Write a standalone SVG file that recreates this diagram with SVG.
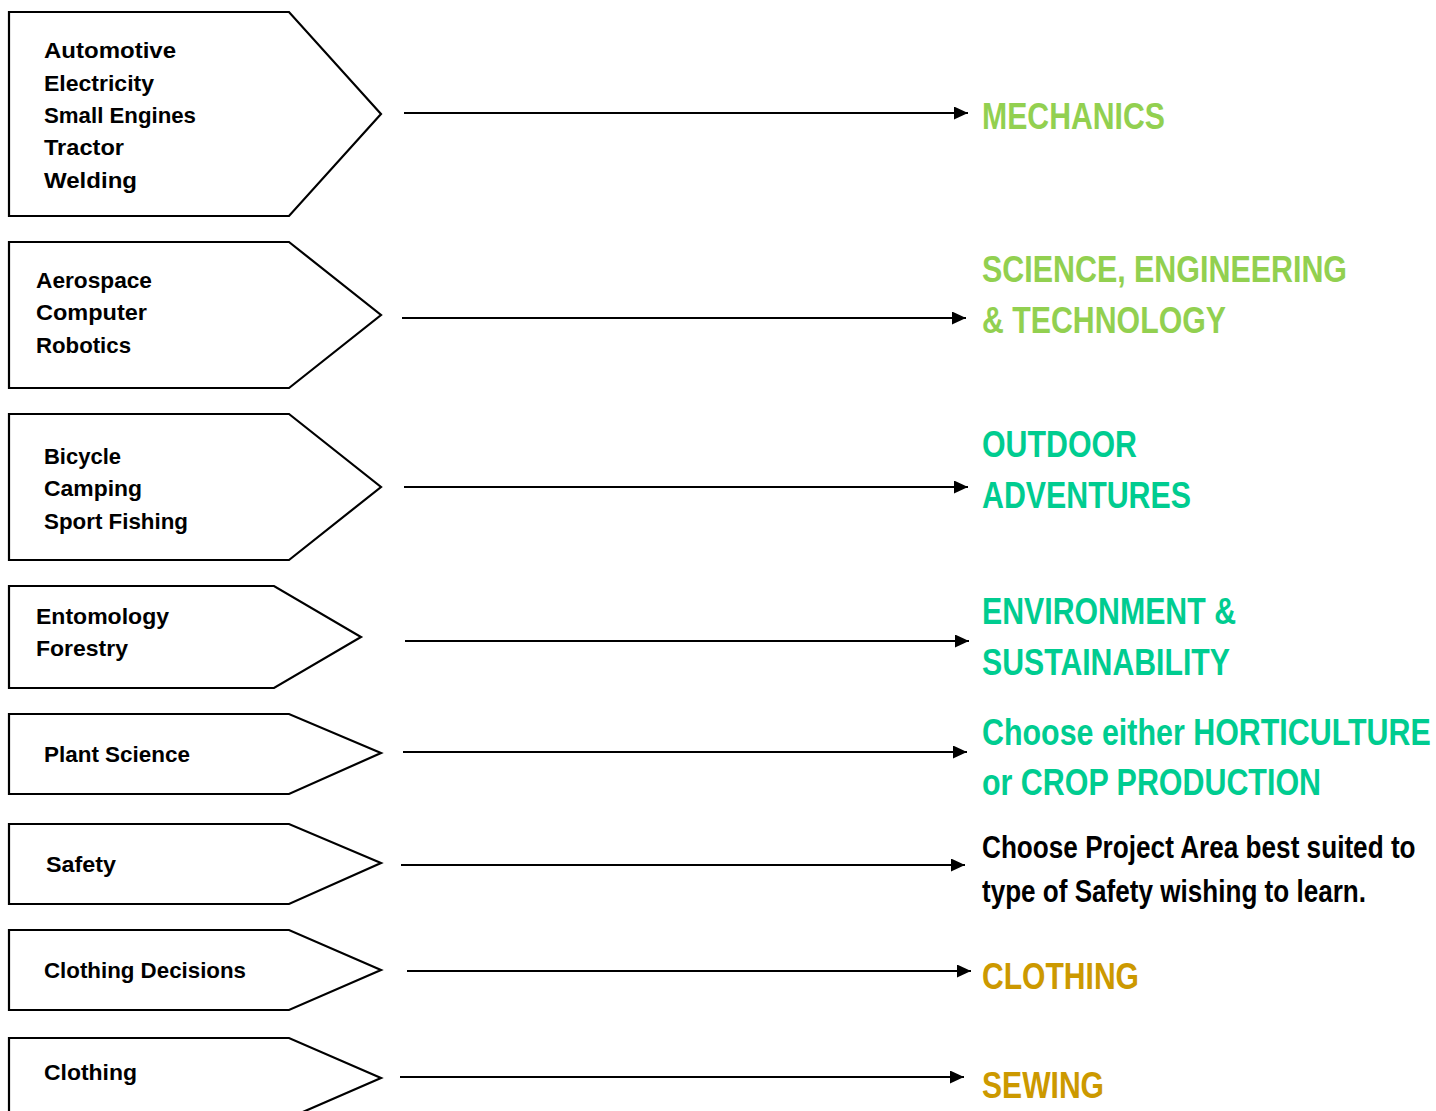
<svg xmlns="http://www.w3.org/2000/svg" width="1436" height="1111" viewBox="0 0 1436 1111">
<defs>
<style>
.box{fill:#fff;stroke:#000;stroke-width:2.2;stroke-linejoin:miter}
.lt{font-family:"Liberation Sans",Arial,sans-serif;font-weight:bold;font-size:22px;fill:#000}
.rt{font-family:"Liberation Sans",Arial,sans-serif;font-weight:bold;font-size:37px}
.bt{font-family:"Liberation Sans",Arial,sans-serif;font-weight:bold;font-size:31px;fill:#000}
.g{fill:#92D050}
.t{fill:#00CC90}
.o{fill:#CC9900}
.conn{stroke:#000;stroke-width:2;fill:none;marker-end:url(#ah)}
</style>
<marker id="ah" viewBox="0 0 14 13" refX="14" refY="6.5" markerWidth="14" markerHeight="13" markerUnits="userSpaceOnUse" orient="auto">
<path d="M0,0 L14,6.5 L0,13 Z" fill="#000"/>
</marker>
</defs>
<rect width="1436" height="1111" fill="#fff"/>

<g id="node-mechanics-source">
<path class="box" d="M9,12 H289 L381,114 L289,216 H9 Z"/>
<text class="lt" x="44" y="58" textLength="132" lengthAdjust="spacingAndGlyphs">Automotive</text>
<text class="lt" x="44" y="91" textLength="110" lengthAdjust="spacingAndGlyphs">Electricity</text>
<text class="lt" x="44" y="123" textLength="152" lengthAdjust="spacingAndGlyphs">Small Engines</text>
<text class="lt" x="44" y="155" textLength="80" lengthAdjust="spacingAndGlyphs">Tractor</text>
<text class="lt" x="44" y="188" textLength="93" lengthAdjust="spacingAndGlyphs">Welding</text>
</g>
<g id="node-set-source">
<path class="box" d="M9,242 H289 L381,315 L289,388 H9 Z"/>
<text class="lt" x="36" y="288" textLength="116" lengthAdjust="spacingAndGlyphs">Aerospace</text>
<text class="lt" x="36" y="320" textLength="111" lengthAdjust="spacingAndGlyphs">Computer</text>
<text class="lt" x="36" y="353" textLength="95" lengthAdjust="spacingAndGlyphs">Robotics</text>
</g>
<g id="node-outdoor-source">
<path class="box" d="M9,414 H289 L381,487 L289,560 H9 Z"/>
<text class="lt" x="44" y="464" textLength="77" lengthAdjust="spacingAndGlyphs">Bicycle</text>
<text class="lt" x="44" y="496" textLength="98" lengthAdjust="spacingAndGlyphs">Camping</text>
<text class="lt" x="44" y="529" textLength="144" lengthAdjust="spacingAndGlyphs">Sport Fishing</text>
</g>
<g id="node-env-source">
<path class="box" d="M9,586 H274 L361,637 L274,688 H9 Z"/>
<text class="lt" x="36" y="624" textLength="133" lengthAdjust="spacingAndGlyphs">Entomology</text>
<text class="lt" x="36" y="656" textLength="92" lengthAdjust="spacingAndGlyphs">Forestry</text>
</g>
<g id="node-plant-source">
<path class="box" d="M9,714 H289 L381,753 L289,794 H9 Z"/>
<text class="lt" x="44" y="762" textLength="146" lengthAdjust="spacingAndGlyphs">Plant Science</text>
</g>
<g id="node-safety-source">
<path class="box" d="M9,824 H289 L381,863 L289,904 H9 Z"/>
<text class="lt" x="46" y="872" textLength="70" lengthAdjust="spacingAndGlyphs">Safety</text>
</g>
<g id="node-clothing-source">
<path class="box" d="M9,930 H289 L381,970 L289,1010 H9 Z"/>
<text class="lt" x="44" y="978" textLength="202" lengthAdjust="spacingAndGlyphs">Clothing Decisions</text>
</g>
<g id="node-sewing-source">
<path class="box" d="M9,1038 H289 L381,1078 L289,1118 H9 Z"/>
<text class="lt" x="44" y="1080" textLength="93" lengthAdjust="spacingAndGlyphs">Clothing</text>
</g>

<g id="connectors">
<line class="conn" x1="404" y1="113" x2="968" y2="113"/>
<line class="conn" x1="402" y1="318" x2="966" y2="318"/>
<line class="conn" x1="404" y1="487" x2="968" y2="487"/>
<line class="conn" x1="405" y1="641" x2="969" y2="641"/>
<line class="conn" x1="403" y1="752" x2="967" y2="752"/>
<line class="conn" x1="401" y1="865" x2="965" y2="865"/>
<line class="conn" x1="407" y1="971" x2="971" y2="971"/>
<line class="conn" x1="400" y1="1077" x2="964" y2="1077"/>
</g>

<g id="node-mechanics">
<text class="rt g" x="982" y="129" textLength="183" lengthAdjust="spacingAndGlyphs">MECHANICS</text>
</g>
<g id="node-set">
<text class="rt g" x="982" y="282" textLength="365" lengthAdjust="spacingAndGlyphs">SCIENCE, ENGINEERING</text>
<text class="rt g" x="982" y="333" textLength="244" lengthAdjust="spacingAndGlyphs">&amp; TECHNOLOGY</text>
</g>
<g id="node-outdoor">
<text class="rt t" x="982" y="457" textLength="155" lengthAdjust="spacingAndGlyphs">OUTDOOR</text>
<text class="rt t" x="982" y="508" textLength="209" lengthAdjust="spacingAndGlyphs">ADVENTURES</text>
</g>
<g id="node-env">
<text class="rt t" x="982" y="624" textLength="254" lengthAdjust="spacingAndGlyphs">ENVIRONMENT &amp;</text>
<text class="rt t" x="982" y="675" textLength="248" lengthAdjust="spacingAndGlyphs">SUSTAINABILITY</text>
</g>
<g id="node-plant">
<g transform="translate(982,745) scale(0.8,1)">
<text class="rt t" x="0" y="0" textLength="561" lengthAdjust="spacingAndGlyphs">Choose either HORTICULTURE</text>
</g>
<text class="rt t" x="982" y="795" textLength="339" lengthAdjust="spacingAndGlyphs">or CROP PRODUCTION</text>
</g>
<g id="node-safety">
<g transform="translate(982,858) scale(0.8,1)">
<text class="bt" x="0" y="0" textLength="542" lengthAdjust="spacingAndGlyphs">Choose Project Area best suited to</text>
</g>
<text class="bt" x="982" y="902" textLength="384" lengthAdjust="spacingAndGlyphs">type of Safety wishing to learn.</text>
</g>
<g id="node-clothing">
<text class="rt o" x="982" y="989" textLength="157" lengthAdjust="spacingAndGlyphs">CLOTHING</text>
</g>
<g id="node-sewing">
<text class="rt o" x="982" y="1098" textLength="122" lengthAdjust="spacingAndGlyphs">SEWING</text>
</g>
</svg>
